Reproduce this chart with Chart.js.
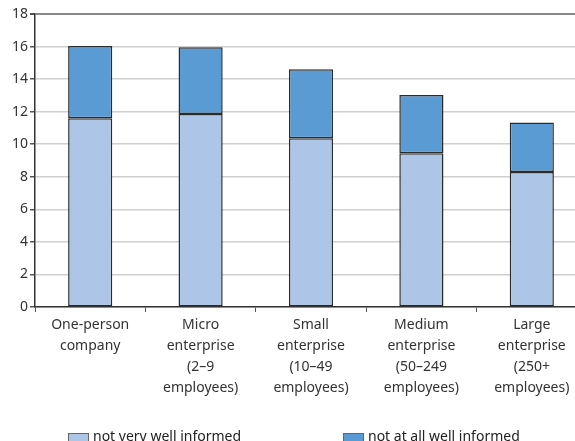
<!DOCTYPE html>
<html>
<head>
<meta charset="utf-8">
<script src="https://cdn.jsdelivr.net/npm/chart.js@4/dist/chart.umd.min.js"></script>
<style>
  html, body { margin: 0; padding: 0; background: #fff; overflow: hidden; }
  #wrap { position: relative; width: 575px; height: 441px; overflow: hidden; }
  #wrap canvas { position: absolute; left: 0; top: 0; }
  .leg { position: absolute; top: 423px; font: 14px "Noto Sans", "Open Sans", sans-serif; color: #222; white-space: nowrap; }
  .leg span.box { position: absolute; left: 0; top: 10px; width: 21px; height: 21px; border: 1px solid #666; box-sizing: border-box; }
  .leg span.txt { position: absolute; left: 25px; top: 3px; }
</style>
</head>
<body>
<div id="wrap">
  <canvas id="chart" width="590" height="441"></canvas>
</div>
<script>
// categories and values
const categories = [
    ['One-person', 'company'],
    ['Micro', 'enterprise', '(2–9', 'employees)'],
    ['Small', 'enterprise', '(10–49', 'employees)'],
    ['Medium', 'enterprise', '(50–249', 'employees)'],
    ['Large', 'enterprise', '(250+', 'employees)']
];
const seriesNames = ['not very well informed', 'not at all well informed'];
const notVeryWell = [11.6, 11.85, 10.37, 9.45, 8.3];
const notAtAllWell = [4.43, 4.1, 4.23, 3.57, 3.03];
const seriesColors = ['#adc6e7', '#5b9bd4'];

const font = { family: '"Noto Sans", "Open Sans", sans-serif', size: 14 };

const ctx = document.getElementById('chart');
new Chart(ctx, {
    type: 'bar',
    data: {
        labels: categories,
        datasets: [notVeryWell, notAtAllWell].map((d, i) => ({
            label: seriesNames[i],
            data: d,
            backgroundColor: seriesColors[i],
            borderColor: '#2b2b2b',
            borderWidth: 1.5,
            borderSkipped: false,
            barPercentage: 0.4,
            categoryPercentage: 1
        }))
    },
    options: {
        responsive: false,
        animation: false,
        layout: { padding: { top: 14, right: 3, left: 0, bottom: 0 } },
        plugins: { legend: { display: false }, tooltip: { enabled: false } },
        scales: {
            x: {
                stacked: true,
                afterFit: s => { s.height = 134; },
                grid: { drawOnChartArea: false, tickLength: 5, tickColor: '#555', offset: true },
                border: { color: '#333', width: 1.5 },
                ticks: { color: '#333', font: { ...font, lineHeight: 1.5 }, padding: 3, maxRotation: 0, autoSkip: false }
            },
            y: {
                stacked: true,
                min: 0,
                max: 18,
                afterFit: s => { s.width = 35; },
                grid: {
                    color: c => c.tick && c.tick.value === 18 ? '#888' : '#cfcfcf',
                    lineWidth: c => c.tick && c.tick.value === 18 ? 2 : 1.5,
                    tickLength: 5,
                    tickColor: '#555'
                },
                border: { color: '#333', width: 1.5 },
                ticks: { stepSize: 2, color: '#333', font: font, padding: 2 }
            }
        }
    }
});

// legend drawn as html under the canvas, from the same series arrays
const wrap = document.getElementById('wrap');
const legendX = [68, 343];
seriesNames.forEach((name, i) => {
    const el = document.createElement('div');
    el.className = 'leg';
    el.style.left = legendX[i] + 'px';
    el.innerHTML = '<span class="box" style="background:' + seriesColors[i] + '"></span><span class="txt">' + name + '</span>';
    wrap.appendChild(el);
});
</script>
</body>
</html>
